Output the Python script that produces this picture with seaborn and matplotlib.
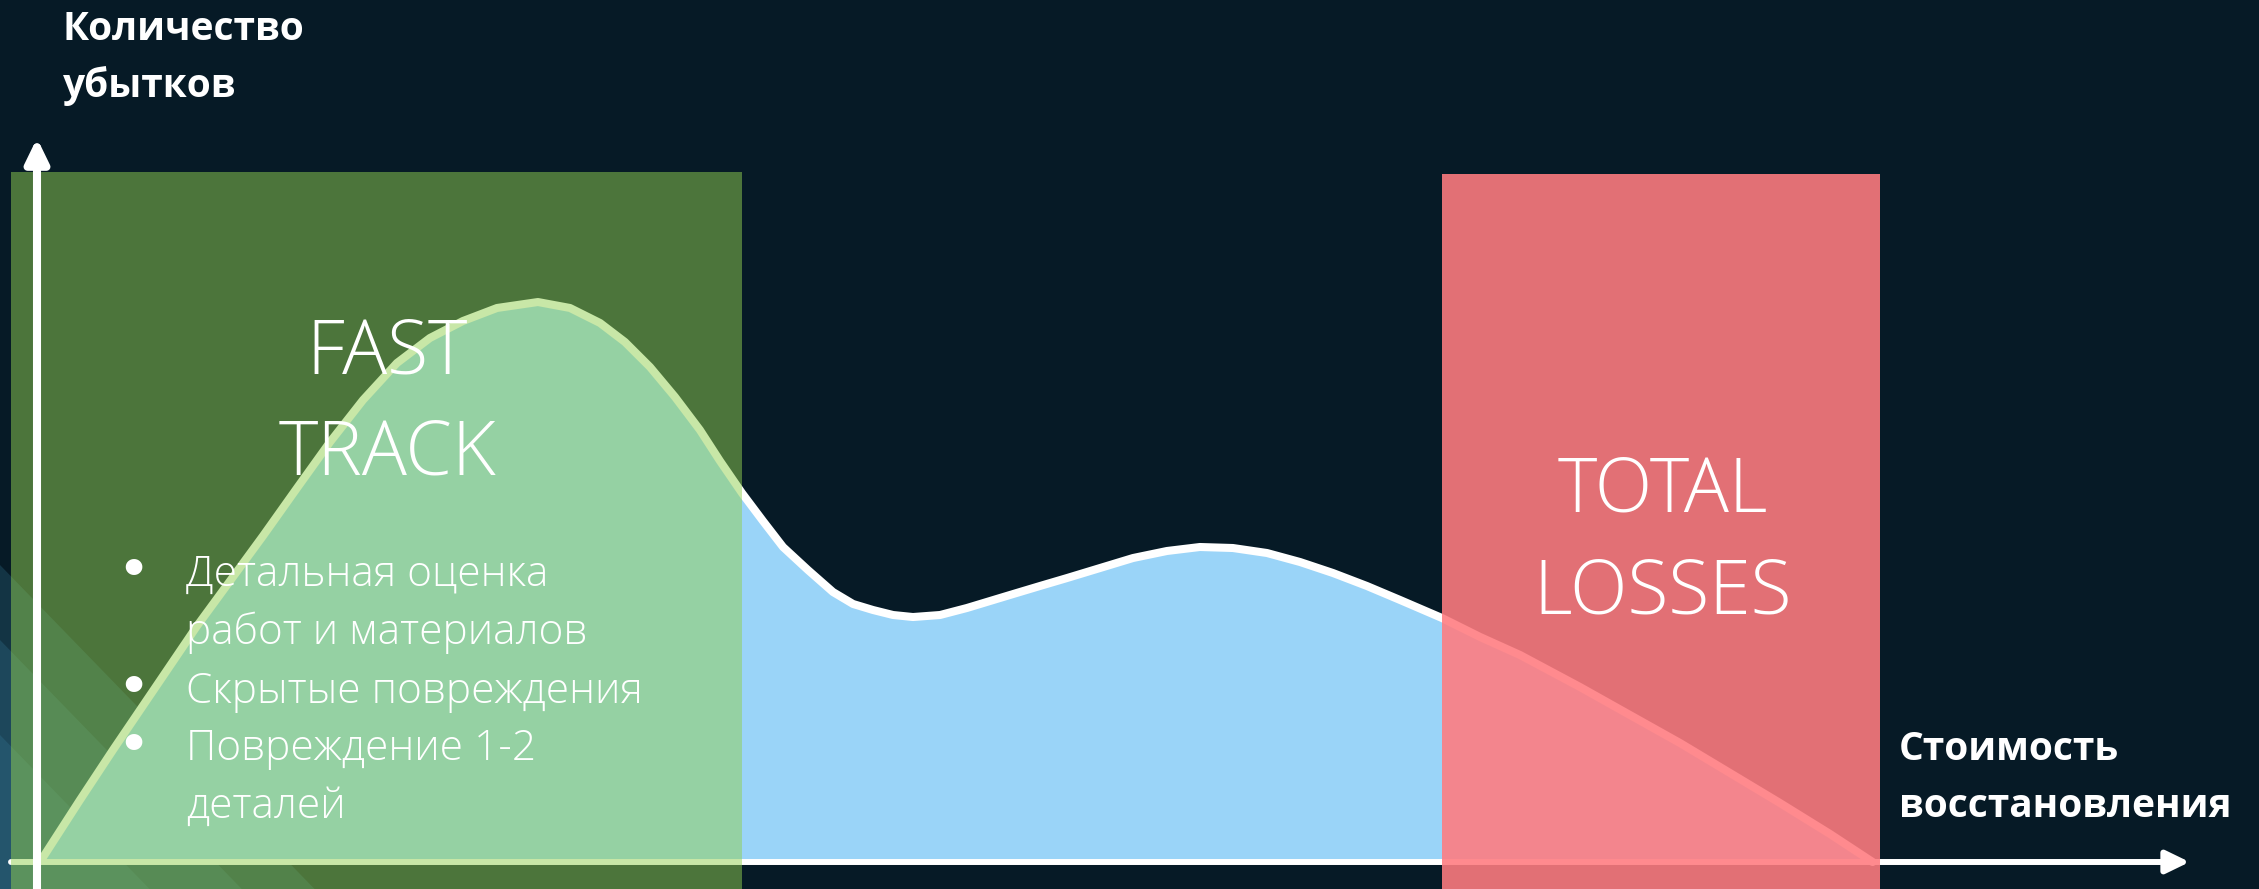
import matplotlib
matplotlib.use("Agg")
import matplotlib.pyplot as plt
from matplotlib.patches import Rectangle, Polygon
from matplotlib import font_manager
import seaborn as sns
import pandas as pd

# ---------------- data ----------------
cost = [0.2, 2.33, 4.12, 6.40, 8.68, 10.47, 12.26, 14.11, 15.90, 17.69, 19.53,
        21.32, 23.11, 24.96, 27.18, 28.92, 30.55, 31.90, 33.26, 34.62, 35.97,
        37.06, 38.25, 39.39, 40.48, 41.83, 43.19, 44.28, 45.36, 46.45, 47.53,
        49.00, 50.46, 52.79, 54.42, 55.89, 57.68, 59.47, 61.31, 63.10, 64.89,
        66.74, 68.53, 70.32, 72.16, 73.96, 76.23, 78.30, 80.47, 83.72, 86.43,
        89.15, 91.86, 94.57, 97.29, 99.6]
claims = [0.2, 11.03, 19.93, 30.96, 41.99, 50.0, 58.01, 66.55, 74.73, 82.21,
          88.79, 93.24, 96.26, 98.58, 99.64, 98.58, 95.91, 92.53, 88.08, 82.74,
          76.87, 71.35, 65.66, 60.68, 56.05, 51.96, 48.04, 45.91, 44.84, 43.95,
          43.59, 43.95, 45.20, 47.51, 49.11, 50.53, 52.31, 54.09, 55.34, 56.05,
          55.87, 54.98, 53.38, 51.42, 49.11, 46.62, 43.42, 40.04, 36.83, 31.14,
          26.16, 21.17, 15.84, 10.50, 4.98, 0.0]

zone_lines = [["FAST", "TRACK"], ["TOTAL", "LOSSES"]]
zone_start = [-1.41, 76.23]
zone_end = [38.25, 100.0]
zone_top = [122.8, 122.4]

bullet_items = [["Детальная оценка", "работ и материалов"],
                ["Скрытые повреждения"],
                ["Повреждение 1-2", "деталей"]]
y_title = ["Количество", "убытков"]
x_title = ["Стоимость", "восстановления"]

# ---------------- style ----------------
BG = "#061A26"
FILL = "#9AD4F8"
ZONE_COLORS = ["#92D050", "#FF7C80"]
ZONE_ALPHA = [0.5, 0.89]

sns.set_theme(style="white")


def has_weight(name, maxw):
    for f in font_manager.fontManager.ttflist:
        if f.name == name:
            w = f.weight
            if isinstance(w, str):
                w = {"light": 300, "extra light": 200, "ultralight": 200,
                     "thin": 100}.get(w.lower(), 400)
            if w <= maxw:
                return True
    return False


LIGHT_FAMILY = "Open Sans"
for cand in ["Open Sans", "Noto Sans", "Roboto"]:
    if has_weight(cand, 300):
        LIGHT_FAMILY = cand
        break

plt.rcParams["font.family"] = ["Open Sans", "DejaVu Sans"]

fig = plt.figure(figsize=(22.59, 8.89), dpi=100)
fig.patch.set_facecolor(BG)
ax = fig.add_axes([0, 0, 1, 1])
ax.set_facecolor(BG)

# chart scale: origin at (37, 862) px, 18.43 px per x-unit, 5.62 px per y-unit
X_LO, X_HI = -37 / 18.43, (2259 - 37) / 18.43
Y_LO, Y_HI = -(889 - 862) / 5.62, 862 / 5.62

# background diagonal bands (bottom-left decoration), in figure fractions
band_start = [565, 640, 735]
for a in band_start:
    b = (889 - a) / 1.03
    poly = Polygon([(0, 1 - a / 889), (b / 2259, 0), (0, 0)], closed=True,
                   transform=fig.transFigure, facecolor="#3C82A0", alpha=0.25,
                   edgecolor="none", zorder=0.5)
    ax.add_patch(poly)

df = pd.DataFrame({"cost": cost, "claims": claims})

# area under the curve
ax.fill_between(df["cost"], df["claims"], 0, color=FILL, lw=0, zorder=2)
# curve
sns.lineplot(data=df, x="cost", y="claims", color="white", lw=5.8,
             sort=False, ax=ax, zorder=3, legend=False)
ax.set_xlabel("")
ax.set_ylabel("")
ax.set_xlim(X_LO, X_HI)
ax.set_ylim(Y_LO, Y_HI)
ax.axis("off")

# x axis with arrow (below zones)
ax.annotate("", xy=(116.8, 0), xytext=(-1.41, 0),
            arrowprops=dict(arrowstyle="-|>,head_length=14,head_width=6.8",
                            mutation_scale=1, lw=4.3, color="white",
                            shrinkA=0, shrinkB=0),
            zorder=4, annotation_clip=False)

# zones
for s, e, t, c, al in zip(zone_start, zone_end, zone_top, ZONE_COLORS, ZONE_ALPHA):
    ax.add_patch(Rectangle((s, Y_LO - 1), e - s, t - Y_LO + 1, facecolor=c,
                           alpha=al, edgecolor="none", zorder=5))

# y axis with arrow (above zones)
ax.annotate("", xy=(0, 128.8), xytext=(0, Y_LO - 1),
            arrowprops=dict(arrowstyle="-|>,head_length=14,head_width=6.8",
                            mutation_scale=1, lw=5.8, color="white",
                            shrinkA=0, shrinkB=0),
            zorder=6, annotation_clip=False)

# zone titles
zone_text_x = [19.0, 88.2]
zone_baselines = [[87.0, 68.9], [62.3, 44.3]]
for lines, zx, bls in zip(zone_lines, zone_text_x, zone_baselines):
    for txt, bl in zip(lines, bls):
        ax.text(zx, bl, txt, color="white", fontsize=54, ha="center",
                va="baseline", family=LIGHT_FAMILY, fontweight="light", zorder=7)

# bullet list
line_baselines = [49.1, 38.8, 28.3, 18.1, 7.8]
k = 0
for item in bullet_items:
    for j, ln in enumerate(item):
        if j == 0:
            ax.text(5.2, line_baselines[k] + 0.3, "•", color="white",
                    fontsize=34, ha="center", va="baseline",
                    family="DejaVu Sans", fontweight="bold", zorder=7)
        ax.text(8.1, line_baselines[k], ln, color="white", fontsize=30.5,
                ha="left", va="baseline", family=LIGHT_FAMILY,
                fontweight="light", zorder=7)
        k += 1

# axis titles
for txt, bl in zip(y_title, [146.3, 136.1]):
    ax.text(1.41, bl, txt, color="white", fontsize=28, fontweight="bold",
            ha="left", va="baseline", zorder=7)
for txt, bl in zip(x_title, [18.1, 8.0]):
    ax.text(101.03, bl, txt, color="white", fontsize=28, fontweight="bold",
            ha="left", va="baseline", zorder=7)

fig.savefig("out.png", dpi=100, facecolor=BG)
